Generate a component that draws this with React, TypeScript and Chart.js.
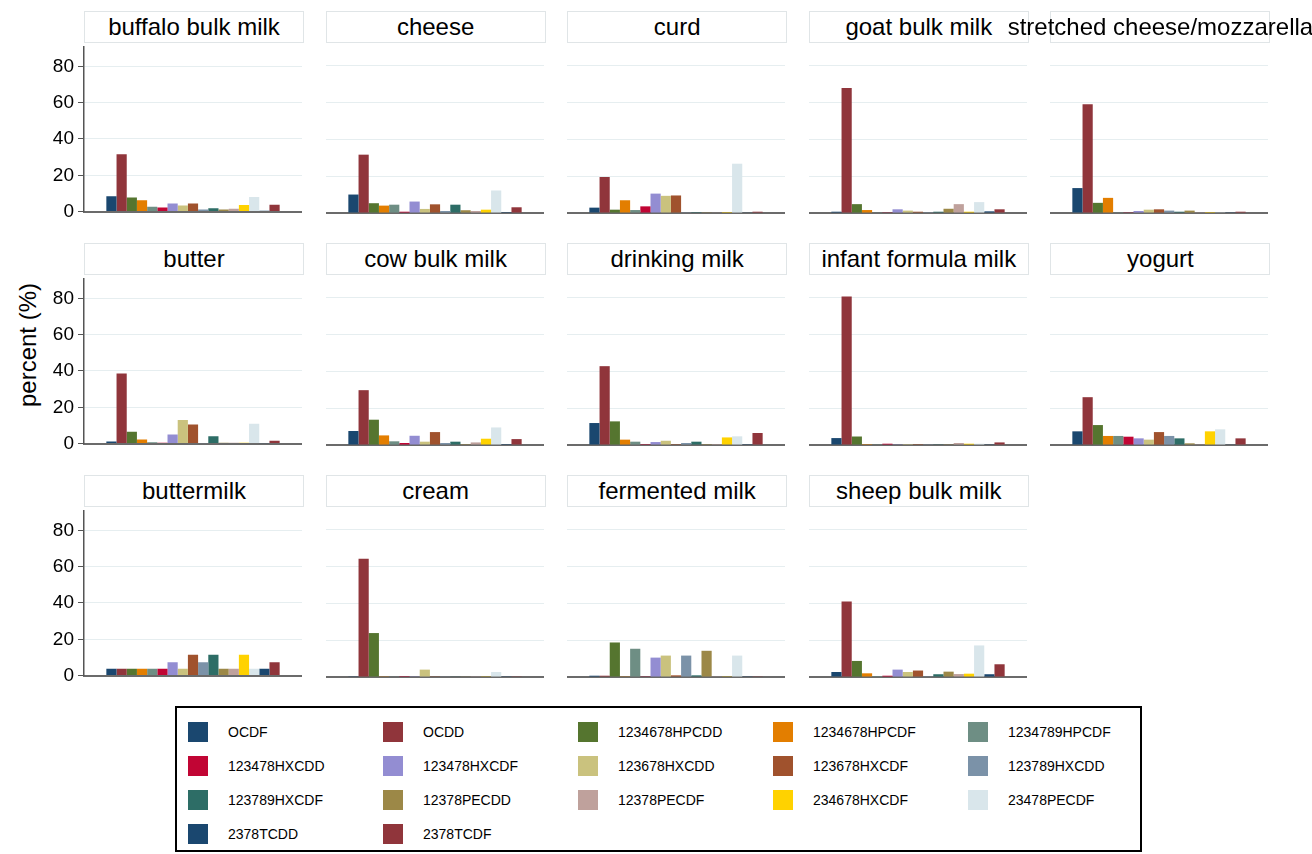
import React, { useEffect, useRef } from "react";
import { Chart, registerables } from "chart.js";

Chart.register(...registerables);

const congeners = [
  "OCDF", "OCDD", "1234678HPCDD", "1234678HPCDF", "1234789HPCDF",
  "123478HXCDD", "123478HXCDF", "123678HXCDD", "123678HXCDF", "123789HXCDD",
  "123789HXCDF", "12378PECDD", "12378PECDF", "234678HXCDF", "23478PECDF",
  "2378TCDD", "2378TCDF",
];

const congenerColors = [
  "#1a476f", "#90353b", "#55752f", "#e37e00", "#6e8e84",
  "#c10534", "#938dd2", "#cac27e", "#a0522d", "#7b92a8",
  "#2d6d66", "#9c8847", "#bfa19c", "#ffd200", "#d9e6eb",
  "#1a476f", "#90353b",
];

const foods = [
  "buffalo bulk milk", "cheese", "curd", "goat bulk milk", "stretched cheese/mozzarella",
  "butter", "cow bulk milk", "drinking milk", "infant formula milk", "yogurt",
  "buttermilk", "cream", "fermented milk", "sheep bulk milk",
];

const buffaloBulkMilk = [8.4, 31.6, 7.8, 6.2, 2.7, 2.2, 4.5, 3.3, 4.4, 1.1, 1.8, 1.1, 1.6, 3.6, 8.0, 0.5, 3.8];
const cheese = [10.0, 31.6, 5.3, 4.0, 4.5, 0.7, 6.2, 2.2, 4.7, 1.1, 4.5, 1.5, 1.1, 1.8, 12.2, 0.5, 3.1];
const curd = [2.9, 19.5, 1.8, 6.9, 1.6, 3.6, 10.5, 9.3, 9.5, 0.4, 0.5, 0.4, 0.2, 0.5, 26.7, 0.2, 0.7];
const goatBulkMilk = [0.7, 67.7, 4.8, 1.6, 0.2, 0.4, 2.0, 1.3, 0.7, 0.1, 0.7, 2.3, 4.8, 0.7, 5.9, 0.9, 2.0];
const stretchedCheese = [13.5, 58.9, 5.5, 8.2, 0.4, 0.4, 1.1, 1.8, 2.0, 1.3, 0.7, 1.3, 0.4, 0.5, 0.4, 0.4, 0.7];
const butter = [1.1, 38.6, 6.5, 2.3, 0.7, 0.4, 5.0, 13.0, 10.5, 0.2, 4.0, 0.4, 0.5, 0.4, 11.0, 0.2, 1.6];
const cowBulkMilk = [7.6, 29.7, 13.7, 5.2, 2.0, 1.1, 5.0, 1.8, 7.0, 1.1, 1.8, 0.5, 1.4, 3.4, 9.5, 0.5, 3.2];
const drinkingMilk = [11.9, 42.7, 12.8, 2.9, 1.8, 0.5, 1.6, 2.3, 0.5, 1.1, 1.8, 0.5, 0.5, 4.1, 4.7, 0.1, 6.5];
const infantFormulaMilk = [3.75, 80.4, 4.6, 0.5, 0.4, 0.7, 0.4, 0.5, 0.5, 0.4, 0.4, 0.4, 1.1, 0.7, 0.7, 0.4, 1.4];
const yogurt = [7.4, 25.9, 10.8, 4.9, 4.9, 4.5, 3.6, 2.9, 7.0, 4.9, 3.6, 0.9, 0.4, 7.4, 8.5, 0.2, 3.6];
const buttermilk = [3.8, 3.8, 3.8, 3.8, 3.8, 3.8, 7.4, 3.8, 11.5, 7.4, 11.5, 3.8, 3.8, 11.5, 3.8, 3.8, 7.4];
const cream = [0.4, 64.1, 23.8, 0.4, 0.2, 0.5, 0.4, 4.0, 0.4, 0.2, 0.2, 0.2, 0.4, 0.4, 2.7, 0.4, 0.4];
const fermentedMilk = [0.7, 0.7, 18.7, 0.4, 15.3, 0.4, 10.5, 11.6, 0.9, 11.6, 0.9, 14.2, 0.4, 0.4, 11.6, 0.4, 0.4];
const sheepBulkMilk = [2.7, 40.9, 8.7, 2.0, 0.5, 0.7, 4.0, 2.7, 3.5, 0.4, 1.5, 2.9, 1.6, 1.8, 17.1, 1.5, 6.9];

const foodValues = [
  buffaloBulkMilk, cheese, curd, goatBulkMilk, stretchedCheese,
  butter, cowBulkMilk, drinkingMilk, infantFormulaMilk, yogurt,
  buttermilk, cream, fermentedMilk, sheepBulkMilk,
];

const yTickValues = [0, 20, 40, 60, 80];
const yMax = 91;
const yAxisTitle = "percent (%)";

const FONT = "'Liberation Sans', Arial, sans-serif";
const COLS = 5;
const COL_LEFT0 = 84;
const COL_PITCH = 241.6;
const PANEL_W = 218;
const ROW_TOP0 = 45;
const ROW_PITCH = 232;
const PLOT_H = 168;
const PAD = 14;

function Panel({ index }: { index: number }) {
  const ref = useRef<HTMLCanvasElement | null>(null);
  const row = Math.floor(index / COLS);
  const col = index % COLS;
  const left = COL_LEFT0 + col * COL_PITCH;
  const top = ROW_TOP0 + row * ROW_PITCH;
  const first = col === 0;
  const canvasLeft = first ? 0 : left;
  const axisW = first ? left : 0;
  const cw = Math.round(PANEL_W + axisW);
  const ch = PLOT_H + 2 * PAD;

  useEffect(() => {
    if (!ref.current) return;
    const values = foodValues[index];
    const chart = new Chart(ref.current, {
      type: "bar",
      data: {
        labels: [foods[index]],
        datasets: congeners.map((name, i) => ({
          label: name,
          data: [values[i]],
          backgroundColor: congenerColors[i],
          borderWidth: 0,
          categoryPercentage: 0.795,
          barPercentage: 1.0,
        })),
      },
      options: {
        responsive: false,
        maintainAspectRatio: false,
        animation: false,
        layout: { padding: { top: PAD, bottom: 0, left: 0, right: 0 } },
        plugins: {
          legend: { display: false },
          tooltip: { enabled: false },
          title: { display: false },
        },
        scales: {
          x: {
            type: "category",
            grid: { display: false, drawTicks: false },
            ticks: { display: false },
            border: { display: true, color: "#6b6b6b", width: 2 },
            afterFit: (s: any) => {
              s.height = PAD;
            },
          },
          y: {
            min: 0,
            max: yMax,
            afterBuildTicks: (s: any) => {
              s.ticks = yTickValues.map((v) => ({ value: v }));
            },
            ticks: {
              display: first,
              includeBounds: false,
              color: "#000",
              font: { family: FONT, size: 19 },
              padding: 4,
            },
            grid: {
              color: "#e6eef0",
              lineWidth: 1,
              drawTicks: first,
              tickLength: 6,
              tickColor: "#555",
            },
            border: { display: first, color: "#555", width: 1.5 },
            afterFit: (s: any) => {
              s.width = axisW;
            },
          },
        },
      } as any,
    });
    return () => chart.destroy();
  }, [index]);

  return (
    <>
      <div
        style={{
          position: "absolute",
          left: left,
          top: top - 34,
          width: PANEL_W,
          height: 30,
          border: "1px solid #e0e5e7",
          background: "#ffffff",
          display: "flex",
          justifyContent: "center",
          alignItems: "center",
          fontFamily: FONT,
          fontSize: 24,
          color: "#000",
          whiteSpace: "nowrap",
        }}
      >
        <span>{foods[index]}</span>
      </div>
      <canvas
        ref={ref}
        width={cw}
        height={ch}
        style={{ position: "absolute", left: canvasLeft, top: top - PAD, width: cw, height: ch }}
      />
    </>
  );
}

function Legend() {
  return (
    <div
      style={{
        position: "absolute",
        left: 175,
        top: 706,
        width: 963,
        height: 142,
        border: "2px solid #000",
        background: "#fff",
      }}
    >
      {congeners.map((name, i) => {
        const r = Math.floor(i / COLS);
        const c = i % COLS;
        return (
          <div
            key={name + i}
            style={{
              position: "absolute",
              left: 11 + c * 195,
              top: 14 + r * 34,
              height: 20,
              display: "flex",
              alignItems: "center",
              fontFamily: FONT,
              fontSize: 14,
              color: "#000",
              whiteSpace: "nowrap",
            }}
          >
            <span
              style={{
                display: "inline-block",
                width: 20,
                height: 20,
                background: congenerColors[i],
                marginRight: 20,
              }}
            />
            <span>{name}</span>
          </div>
        );
      })}
    </div>
  );
}

export default function App() {
  return (
    <div
      style={{
        position: "absolute",
        left: 0,
        top: 0,
        width: 1312,
        height: 854,
        background: "#fff",
        overflow: "hidden",
      }}
    >
      <div
        style={{
          position: "absolute",
          left: 28,
          top: 345,
          transform: "translate(-50%, -50%) rotate(-90deg)",
          fontFamily: FONT,
          fontSize: 24,
          color: "#000",
          whiteSpace: "nowrap",
        }}
      >
        {yAxisTitle}
      </div>
      {foods.map((f, i) => (
        <Panel key={f} index={i} />
      ))}
      <Legend />
    </div>
  );
}
